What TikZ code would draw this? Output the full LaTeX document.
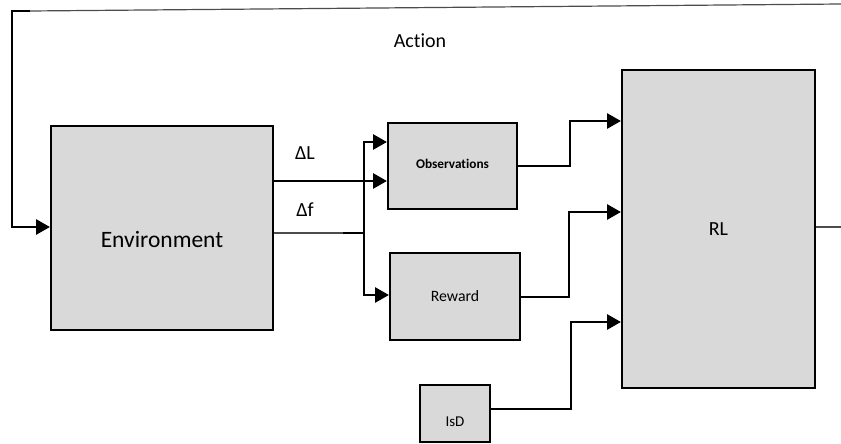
\documentclass[tikz,border=0pt]{standalone}
\usepackage{fontspec}
\setmainfont{Carlito}[Ligatures=NoCommon]
\usetikzlibrary{arrows.meta}
\tikzset{
  blk/.style={draw=black, line width=2pt, fill=black!15, inner sep=0pt},
  conn/.style={line width=2.8pt, black},
  thinconn/.style={line width=1.2pt, black!70},
  arr/.style={-{Triangle[length=14pt,width=15pt]}},
}
\begin{document}
\begin{tikzpicture}[x=1pt,y=-1pt]
\useasboundingbox (0,0) rectangle (841,444);
% boxes
\node[blk, minimum width=222pt, minimum height=204pt,
  label={[font=\fontsize{23.5}{26}\selectfont, yshift=-12pt]center:Environment}] (env) at (162,228) {};
\node[blk, minimum width=129pt, minimum height=86pt, font=\bfseries\fontsize{13.3}{15}\selectfont] (obs) at (452.5,166) {\raisebox{5pt}{Observations}};
\node[blk, minimum width=130pt, minimum height=87pt, font=\fontsize{15.8}{18}\selectfont] (rew) at (455,296.5) {Reward};
\node[blk, minimum width=193pt, minimum height=318pt, font=\fontsize{20}{24}\selectfont] (rl) at (718.5,229) {RL};
\node[blk, minimum width=70pt, minimum height=57pt,
  label={[font=\fontsize{15}{18}\selectfont, yshift=-8pt]center:IsD}] (isd) at (455,413.5) {};
% labels
\node[font=\fontsize{20}{24}\selectfont] (act) at (420,41) {Action};
\node[font=\fontsize{20}{24}\selectfont] (dl) at (305,153) {ΔL};
\node[font=\fontsize{20}{24}\selectfont] (df) at (305,210) {Δf};
% coordinates
\coordinate (fA) at (343,233);
\coordinate (fB) at (364,233);
\coordinate (vtop) at (364,142);
\coordinate (vbot) at (364,295);
% Delta L
\draw[conn, arr] (env.east |- 0,181) -- (obs.west |- 0,181);
% Delta f
\draw[thinconn] (env.east |- fA) -- (fA);
\draw[conn] (fA) -- (fB);
\draw[conn, line join=miter, arr] (fB) -- (vtop) -- (obs.west |- vtop);
\draw[conn, line join=miter, arr] (fB) -- (vbot) -- (rew.west |- vbot);
% to RL
\draw[conn, line join=miter, arr] (obs.east) -- (570,166) -- (570,121) -- (rl.west |- 0,121);
\draw[conn, line join=miter, arr] (rew.east |- 0,297) -- (569,297) -- (569,212) -- (rl.west |- 0,212);
\draw[conn, line join=miter, arr] (isd.east |- 0,409) -- (571,409) -- (571,322) -- (rl.west |- 0,322);
% action feedback
\coordinate (rr) at (841,227);
\coordinate (tr) at (841,4);
\coordinate (tl) at (30,11);
\coordinate (tc) at (12,11);
\draw[thinconn] (rl.east |- rr) -- (rr);
\draw[thinconn] (tr) -- (tl);
\draw[conn, line join=miter, arr] (tl) -- (tc) -- (12,227) -- (env.west |- 0,227);
\end{tikzpicture}
\end{document}
